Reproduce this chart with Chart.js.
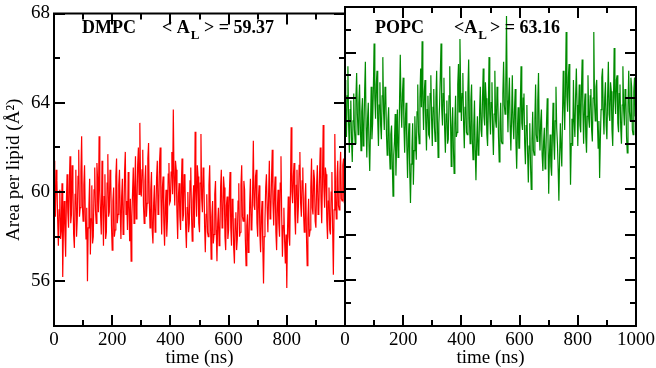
<!DOCTYPE html>
<html><head><meta charset="utf-8">
<script src="https://cdn.jsdelivr.net/npm/chart.js@4.4.1/dist/chart.umd.min.js"></script>
<style>
html,body{margin:0;padding:0;background:#fff;}
#wrap{position:relative;width:656px;height:368px;overflow:hidden;}
canvas{position:absolute;left:0;top:0;}
</style></head><body>
<div id="wrap"><canvas id="c1" width="656" height="368"></canvas><canvas id="c2" width="656" height="368"></canvas></div>
<script>
// ---- data (time step 2.5 ns, t = 0 .. 1000) ----
const timeStep = 2.5;
const dmpcArea = [
61.4,59.7,58.9,61.0,60.5,58.8,57.6,59.2,60.1,57.9,58.3,60.4,56.2,58.5,59.6,58.2,57.1,59.5,60.8,59.1,58.4,60.2,61.6,58.6,59.0,61.2,60.2,58.1,57.5,59.9,61.0,58.0,58.8,60.7,61.9,58.9,59.3,60.9,62.5,59.4,
58.7,60.3,61.2,59.0,57.9,59.3,56.0,58.4,59.4,60.6,57.2,58.8,60.3,57.7,58.0,60.1,61.1,59.2,58.6,61.3,60.5,59.1,62.5,60.0,59.0,58.1,61.4,59.6,57.6,59.8,60.8,57.9,58.2,60.4,61.7,58.9,59.1,61.0,60.6,58.5,
57.4,59.6,60.2,58.0,58.3,60.7,61.5,58.6,59.0,60.3,61.0,59.2,57.9,59.8,60.6,58.1,58.5,60.9,61.8,59.0,59.6,58.3,60.9,59.4,57.8,59.7,56.9,58.9,60.0,61.1,58.6,60.2,61.6,58.8,59.3,61.2,62.0,59.9,63.1,60.4,
59.8,61.0,61.9,59.4,58.6,60.5,61.2,58.9,59.5,61.5,62.2,59.6,58.4,60.1,60.9,58.3,57.7,59.5,60.3,58.2,58.9,60.6,61.4,59.0,59.2,61.3,62.0,59.7,58.1,60.2,60.7,58.6,57.6,59.3,60.1,58.0,58.8,60.8,61.3,59.5,
59.6,60.9,61.8,59.9,63.7,60.6,59.4,61.4,61.0,59.1,57.9,59.8,60.4,58.9,58.3,60.2,61.5,58.7,59.0,60.8,60.6,58.4,57.5,59.3,60.0,58.2,58.6,60.5,61.1,59.0,57.8,59.6,60.3,58.4,62.7,60.1,58.9,61.2,60.7,58.6,
58.2,60.4,62.6,59.7,59.1,61.1,60.8,58.5,57.3,59.0,59.9,58.2,58.0,60.3,61.2,58.8,57.0,58.9,59.6,57.7,58.1,59.9,60.5,58.3,56.9,58.6,59.3,57.6,58.0,60.2,61.0,58.4,58.6,60.7,60.2,58.0,57.4,59.4,59.8,57.9,
58.3,59.9,60.9,58.4,57.6,59.7,59.5,57.5,56.8,58.8,59.1,57.4,57.9,59.6,60.4,58.0,58.2,60.3,61.2,58.9,58.7,60.5,60.1,57.9,56.7,58.5,59.0,57.3,57.8,59.5,60.6,58.3,58.4,60.0,62.3,59.4,59.2,60.7,61.0,58.6,
58.0,59.7,60.3,58.1,57.3,58.9,59.6,57.6,55.9,58.0,58.7,60.2,60.8,59.3,58.2,59.9,61.4,58.8,59.0,60.6,61.9,59.5,58.5,60.0,60.7,58.2,57.4,59.2,60.1,58.6,58.0,60.4,61.6,58.9,57.1,58.5,59.3,57.8,56.8,58.1,
55.7,58.3,59.8,58.0,57.6,60.1,62.9,60.0,59.5,60.7,61.3,59.0,58.1,60.3,61.0,58.6,59.4,61.2,61.8,59.5,58.9,60.5,61.1,59.1,58.2,59.7,60.4,58.1,56.7,58.8,59.7,58.0,58.3,60.2,61.5,59.3,59.0,61.0,60.6,58.7,
58.4,60.3,61.2,59.0,59.1,60.8,62.0,59.7,58.6,60.5,63.0,60.2,59.3,61.1,60.8,58.7,57.9,59.6,60.2,58.3,58.1,60.0,60.9,58.4,56.3,59.2,62.6,59.9,58.8,60.6,61.4,59.4,59.2,60.9,61.8,59.7,59.6,61.2,61.5,59.5,60.0
];
const popcArea = [
64.8,63.2,62.3,64.1,65.4,62.8,61.6,63.5,63.9,62.1,61.2,63.0,64.2,62.6,62.0,64.0,65.1,63.3,62.4,63.8,64.6,62.9,61.7,63.4,64.0,61.9,62.5,64.3,65.6,62.7,61.4,63.1,63.8,61.9,60.8,62.6,64.5,62.2,62.9,64.4,
66.4,64.0,63.1,64.6,65.2,63.0,61.9,63.7,64.7,62.8,62.2,64.1,65.8,63.4,62.6,64.5,64.3,62.4,61.5,63.0,63.6,61.8,60.9,62.4,62.8,61.2,59.7,61.5,62.1,63.3,60.6,62.0,63.5,61.4,61.8,63.9,65.9,63.6,62.7,64.2,
64.9,62.8,61.6,63.1,63.8,61.9,60.5,62.2,62.9,60.8,59.4,61.1,61.8,62.9,60.2,61.7,63.2,62.0,61.3,63.4,64.6,62.5,62.0,64.0,65.3,63.6,66.5,63.9,62.6,64.3,64.8,62.9,61.7,63.5,64.1,62.4,62.3,64.2,65.0,63.1,
61.9,63.6,64.4,62.7,62.1,64.0,65.2,63.0,61.4,62.9,63.7,65.0,66.4,63.5,62.8,64.2,64.9,62.6,61.6,63.3,63.9,62.0,62.2,64.1,65.4,63.2,61.0,62.7,63.6,61.8,60.7,62.9,64.1,62.3,62.5,64.6,65.5,63.4,66.6,64.3,
63.0,64.2,65.1,62.9,61.8,63.6,64.3,62.5,62.4,64.4,65.7,63.1,62.0,63.9,64.6,62.2,61.3,62.8,63.9,61.7,60.4,62.1,63.2,61.5,61.6,63.4,64.5,62.6,62.3,64.0,65.3,63.2,62.8,64.7,64.0,62.4,61.9,63.5,65.8,63.3,
62.4,63.8,64.7,62.6,61.5,63.3,65.2,63.0,62.7,64.5,64.1,62.3,61.2,62.9,63.8,62.1,62.0,64.2,65.6,63.7,63.3,64.6,67.6,63.9,62.5,64.0,64.9,62.8,61.7,63.2,65.0,62.9,62.2,63.5,64.4,62.0,60.9,62.6,63.6,61.8,
61.8,63.7,65.4,62.9,62.6,64.0,64.2,62.0,61.1,62.8,63.7,61.6,60.3,61.9,62.9,61.1,60.0,62.2,63.4,61.7,61.5,63.1,64.6,62.4,62.1,63.9,65.1,62.6,61.7,63.0,63.5,61.5,60.8,62.1,62.7,60.9,61.2,62.9,64.0,62.3,
59.8,61.5,62.4,61.0,60.6,62.3,63.8,62.1,61.3,63.0,64.5,62.7,62.0,60.9,59.5,61.4,62.9,61.8,61.0,63.3,65.2,63.6,62.6,64.4,66.9,64.1,63.4,64.9,65.5,62.8,60.2,62.0,63.1,61.9,64.8,63.0,62.3,64.1,65.3,63.7,
61.9,63.4,64.6,62.8,62.5,64.3,65.7,63.5,62.0,63.6,64.2,62.3,61.6,63.2,65.0,63.1,62.7,64.1,64.4,62.6,62.1,64.0,66.9,63.8,63.0,64.5,64.8,62.9,61.8,63.0,60.5,62.2,63.5,64.9,65.3,63.4,62.4,64.0,64.7,62.8,
62.2,64.1,65.6,63.3,63.0,64.7,64.3,62.6,61.9,63.8,66.2,64.0,63.3,64.8,65.0,62.9,62.5,64.2,64.6,62.7,62.0,63.7,65.4,63.5,62.8,64.4,64.1,62.3,61.6,63.6,65.2,63.4,63.0,64.9,64.5,62.6,62.4,64.3,64.9,63.2,63.5
];
const xTickValues = [0, 200, 400, 600, 800, 1000];
const yTickLabelValues = [56, 60, 64, 68];
const yRange = [54, 68];
const xRange = [0, 1000];

const FONT = "'Liberation Serif', 'Times New Roman', serif";
const toPoints = arr => arr.map((v, i) => ({x: i * timeStep, y: v}));

const framePlugin = {
  id: 'frame',
  afterDraw(chart, args, o) {
    const ctx = chart.ctx, a = chart.chartArea, xs = chart.scales.x, ys = chart.scales.y;
    ctx.save();
    ctx.strokeStyle = '#000'; ctx.lineWidth = 2;
    ctx.strokeRect(a.left, a.top, a.right - a.left, a.bottom - a.top);
    ctx.beginPath();
    for (let t = xRange[0]; t <= xRange[1]; t += 100) {
      const px = Math.round(xs.getPixelForValue(t));
      const len = (t % 200 === 0) ? 11 : 6;
      ctx.moveTo(px, a.bottom); ctx.lineTo(px, a.bottom - len);
      ctx.moveTo(px, a.top); ctx.lineTo(px, a.top + len);
    }
    for (let v = yRange[0]; v <= yRange[1]; v += o.yMinor) {
      const py = Math.round(ys.getPixelForValue(v));
      const len = (v % o.yMajor === 0) ? 11 : 6;
      ctx.moveTo(a.left, py); ctx.lineTo(a.left + len, py);
      ctx.moveTo(a.right, py); ctx.lineTo(a.right - len, py);
    }
    ctx.stroke();
    // annotation
    ctx.fillStyle = '#000';
    ctx.textBaseline = 'alphabetic';
    const big = "bold 18px " + FONT, small = "bold 13px " + FONT;
    let x = a.left + o.labelX, y = 33;
    ctx.font = big; ctx.fillText(o.name, x, y);
    x = a.left + o.avgX;
    ctx.fillText(o.pre, x, y); x += ctx.measureText(o.pre).width + 1;
    ctx.font = small; ctx.fillText('L', x, y + 6); x += ctx.measureText('L').width + o.gap;
    ctx.font = big; ctx.fillText(o.post, x, y);
    ctx.restore();
  }
};

function makeChart(id, data, color, left, opts) {
  return new Chart(document.getElementById(id), {
    type: 'line',
    data: { datasets: [{ data: toPoints(data), borderColor: color, borderWidth: 1.2,
      pointRadius: 0, tension: 0, fill: false }] },
    options: {
      responsive: false, animation: false, devicePixelRatio: 1,
      layout: { padding: { left: left ? 0 : 345, right: left ? 311 : 20, top: 7, bottom: 0 } },
      plugins: { legend: { display: false }, tooltip: { enabled: false }, frame: opts },
      scales: {
        x: {
          type: 'linear', min: xRange[0], max: xRange[1],
          afterBuildTicks: s => { s.ticks = xTickValues.map(v => ({value: v})); },
          afterFit: s => { s.height = 42; s.paddingLeft = 0; s.paddingRight = 0; },
          grid: { display: false, drawTicks: false, tickLength: 0 },
          border: { display: false },
          ticks: { color: '#000', padding: 5, maxRotation: 0, autoSkip: false,
            font: { family: FONT, size: 19, lineHeight: 1 },
            callback: v => (left && v === 1000) ? '' : String(v) },
          title: { display: true, text: 'time (ns)', color: '#000',
            font: { family: FONT, size: 19, lineHeight: 1 }, padding: { top: 0, bottom: 0 } }
        },
        y: {
          type: 'linear', min: yRange[0], max: yRange[1], display: left,
          afterBuildTicks: s => { s.ticks = yTickLabelValues.map(v => ({value: v})); },
          afterFit: s => { s.width = left ? 54 : 0; },
          grid: { display: false, drawTicks: false, tickLength: 0 },
          border: { display: false },
          ticks: { color: '#000', padding: 4, font: { family: FONT, size: 19, lineHeight: 1 } },
          title: { display: true, text: 'Area per lipid (Å²)', color: '#000',
            font: { family: FONT, size: 19, lineHeight: 1 }, padding: { top: 5, bottom: 0 } }
        }
      }
    },
    plugins: [framePlugin]
  });
}

makeChart('c1', dmpcArea, '#ff0000', true,
  { yMajor: 4, yMinor: 2, labelX: 28, name: 'DMPC', avgX: 108, pre: '< A', post: ' > = 59.37', gap: 0 });
makeChart('c2', popcArea, '#008b00', false,
  { yMajor: 2, yMinor: 1, labelX: 30, name: 'POPC', avgX: 109, pre: '<A', post: '> = 63.16', gap: 3 });
</script>
</body></html>
